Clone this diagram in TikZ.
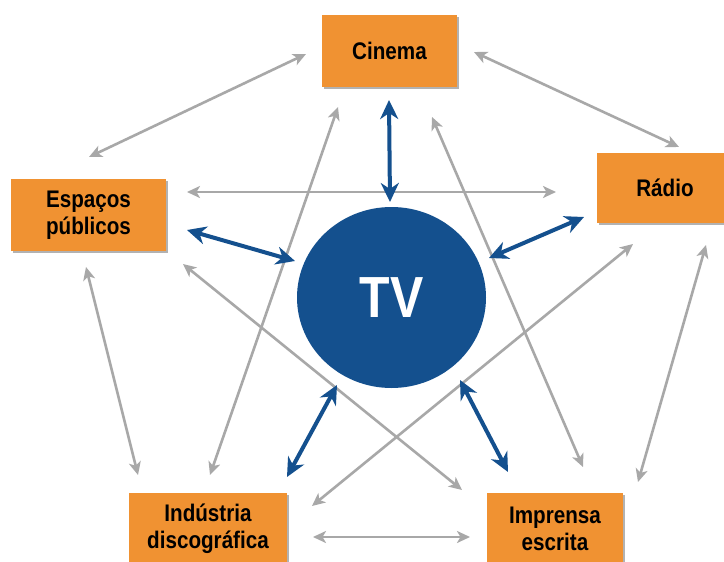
\documentclass[tikz,border=0pt]{standalone}
\usepackage{fontspec}
\setmainfont{Liberation Sans}[FakeStretch=0.86]
\usetikzlibrary{arrows.meta,shadows,shapes.geometric}
\definecolor{orng}{RGB}{240,146,50}
\definecolor{tvblue}{RGB}{20,80,142}
\definecolor{arrgrey}{RGB}{168,168,168}
\begin{document}
\begin{tikzpicture}[x=1pt,y=-1pt,
  box/.style={fill=orng, minimum height=72pt, inner sep=0pt, align=center,
    font=\fontsize{24}{27}\selectfont\bfseries,
    drop shadow={shadow xshift=1.5pt, shadow yshift=-2pt, opacity=0.3, fill=black}},
  ga/.style={draw=arrgrey, line width=2.6pt, {Stealth[length=13pt,width=12pt,inset=3.5pt]}-{Stealth[length=13pt,width=12pt,inset=3.5pt]}},
  ba/.style={draw=tvblue, line width=4pt, {Stealth[length=19pt,width=18pt,inset=6pt]}-{Stealth[length=19pt,width=18pt,inset=6pt]}}]
\useasboundingbox (0,0) rectangle (724,562);
\fill[white] (0,0) rectangle (724,562);

\node[box, minimum width=135pt] (cinema) at (389.5,51) {Cinema};
\node[box, minimum width=136pt, minimum height=70pt] (radio) at (665,188) {Rádio};
\node[box, minimum width=155pt] (espacos) at (88.5,215) {Espaços\\públicos};
\node[box, minimum width=158pt] (industria) at (208,529) {Indústria\\discográfica};
\node[box, minimum width=136pt] (imprensa) at (555,529) {Imprensa\\escrita};
\node[ellipse, fill=tvblue, minimum width=189pt, minimum height=181pt, inner sep=0pt,
  text=white, font=\fontsize{58}{62}\selectfont\bfseries] (tv) at (391.5,297.5) {TV};

% grey arrow end points
\coordinate (c1a) at (306,54);  \coordinate (c1b) at (89,157);
\coordinate (c2a) at (474,52);  \coordinate (c2b) at (679,147);
\coordinate (c3a) at (187,192); \coordinate (c3b) at (556,192);
\coordinate (c4a) at (338,107); \coordinate (c4b) at (210,475);
\coordinate (c5a) at (432,117); \coordinate (c5b) at (583,467);
\coordinate (c6a) at (183,264); \coordinate (c6b) at (462,490);
\coordinate (c7a) at (86,267);  \coordinate (c7b) at (138,475);
\coordinate (c8a) at (633,244); \coordinate (c8b) at (312,506);
\coordinate (c9a) at (706,245); \coordinate (c9b) at (638,482);
\coordinate (c10a) at (313,537); \coordinate (c10b) at (470,537);
% blue arrow end points
\coordinate (b1a) at (389,100); \coordinate (b1b) at (390,202);
\coordinate (b2a) at (187,230); \coordinate (b2b) at (295,261);
\coordinate (b3a) at (489,258); \coordinate (b3b) at (584,217);
\coordinate (b4a) at (337,385); \coordinate (b4b) at (287,477);
\coordinate (b5a) at (460,380); \coordinate (b5b) at (508,472);

\foreach \i in {1,...,10} \draw[ga] (c\i a) -- (c\i b);
\foreach \i in {1,...,5} \draw[ba] (b\i a) -- (b\i b);
\end{tikzpicture}
\end{document}
